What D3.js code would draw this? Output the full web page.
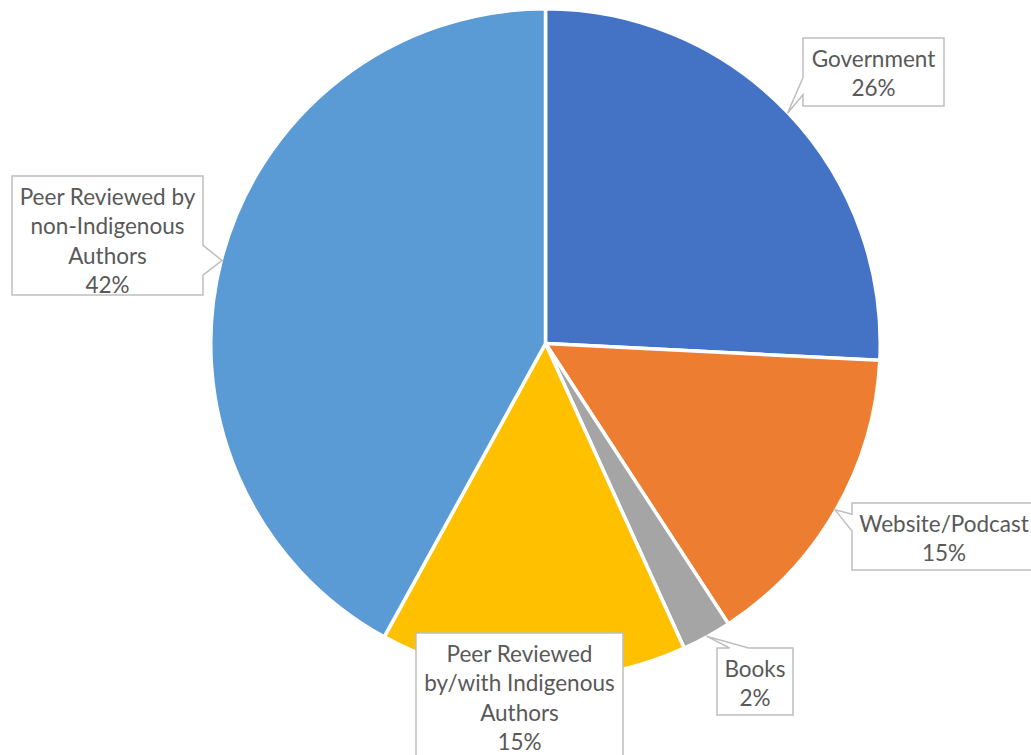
<!DOCTYPE html>
<html>
<head>
<meta charset="utf-8">
<script src="https://cdn.jsdelivr.net/npm/d3@7"></script>
<style>
  html, body { margin: 0; padding: 0; background: #fff; }
  svg { display: block; }
  .lbl text { font-family: Lato, "Open Sans", sans-serif; font-size: 22.5px; fill: #595959; }
</style>
</head>
<body>
<svg id="chart" width="1031" height="755"></svg>
<script>
// data (percent of sources)
var categories = ["Government", "Website/Podcast", "Books",
  "Peer Reviewed by/with Indigenous Authors", "Peer Reviewed by non-Indigenous Authors"];
var shares = [25.8, 15.0, 2.4, 14.8, 42.0];
var labelLines = [
  ["Government"],
  ["Website/Podcast"],
  ["Books"],
  ["Peer Reviewed", "by/with Indigenous", "Authors"],
  ["Peer Reviewed by", "non-Indigenous", "Authors"]
];
var colors = ["#4472C4", "#ED7D31", "#A5A5A5", "#FFC000", "#5B9BD5"];

// callout boxes (layout only)
var boxes = [
  { x: 803, y: 38, w: 141, h: 68, wedge: true },
  { x: 852, y: 503, w: 184, h: 67, wedge: true },
  { x: 717, y: 648, w: 76, h: 67, wedge: true },
  { x: 416, y: 633, w: 207, h: 130, wedge: false },
  { x: 12, y: 176, w: 191, h: 119, wedge: true }
];

var svg = d3.select("#chart");
var cx = 545.5, cy = 343.5, strokeW = 3.5;
var radius = 333 + strokeW / 2;

var g = svg.append("g").attr("transform", "translate(" + cx + "," + cy + ")");

var pie = d3.pie().sort(null).value(function(d) { return d; });
var arcs = pie(shares);
var arc = d3.arc().innerRadius(0).outerRadius(radius);

g.selectAll("path.slice")
  .data(arcs)
  .enter()
  .append("path")
  .attr("class", "slice")
  .attr("d", arc)
  .style("fill", function(d, i) { return colors[i]; })
  .style("stroke", "#fff")
  .style("stroke-width", strokeW);

// wedge callout path like office wedgeRectCallout
function calloutPath(b, tx, ty) {
  var l = b.x, t = b.y, r = b.x + b.w, bt = b.y + b.h;
  var dx = tx - (l + b.w / 2), dy = ty - (t + b.h / 2);
  var dq = dx * b.h / b.w;
  var x1 = l + b.w * (dx > 0 ? 7 : 2) / 12, x2 = l + b.w * (dx > 0 ? 10 : 5) / 12;
  var y1 = t + b.h * (dy > 0 ? 7 : 2) / 12, y2 = t + b.h * (dy > 0 ? 10 : 5) / 12;
  var p = d3.path();
  p.moveTo(l, t);
  if (Math.abs(dy) > Math.abs(dq) && dy < 0) { p.lineTo(x1, t); p.lineTo(tx, ty); p.lineTo(x2, t); }
  p.lineTo(r, t);
  if (Math.abs(dy) <= Math.abs(dq) && dx > 0) { p.lineTo(r, y1); p.lineTo(tx, ty); p.lineTo(r, y2); }
  p.lineTo(r, bt);
  if (Math.abs(dy) > Math.abs(dq) && dy > 0) { p.lineTo(x2, bt); p.lineTo(tx, ty); p.lineTo(x1, bt); }
  p.lineTo(l, bt);
  if (Math.abs(dy) <= Math.abs(dq) && dx < 0) { p.lineTo(l, y2); p.lineTo(tx, ty); p.lineTo(l, y1); }
  p.closePath();
  return p.toString();
}

var tipArc = d3.arc().innerRadius(radius - strokeW / 2 + 1).outerRadius(radius - strokeW / 2 + 1);
var fmt = function(v) { return Math.round(v) + "%"; };

var labels = svg.selectAll("g.lbl")
  .data(arcs)
  .enter()
  .append("g")
  .attr("class", "lbl");

labels.append("path")
  .attr("d", function(d, i) {
    var b = boxes[i];
    if (!b.wedge) return "M" + b.x + "," + b.y + "h" + b.w + "v" + b.h + "h" + (-b.w) + "Z";
    var c = tipArc.centroid(d);
    return calloutPath(b, cx + c[0], cy + c[1]);
  })
  .style("fill", "#fff")
  .style("stroke", "#BFBFBF")
  .style("stroke-width", 1.5);

labels.each(function(d, i) {
  var b = boxes[i];
  var lines = labelLines[i].concat([fmt(d.data)]);
  d3.select(this).selectAll("text")
    .data(lines)
    .enter()
    .append("text")
    .attr("x", b.x + b.w / 2)
    .attr("y", function(s, j) { return b.y + 20.5 + j * 29.3; })
    .attr("text-anchor", "middle")
    .attr("dominant-baseline", "central")
    .text(function(s) { return s; });
});
</script>
</body>
</html>
